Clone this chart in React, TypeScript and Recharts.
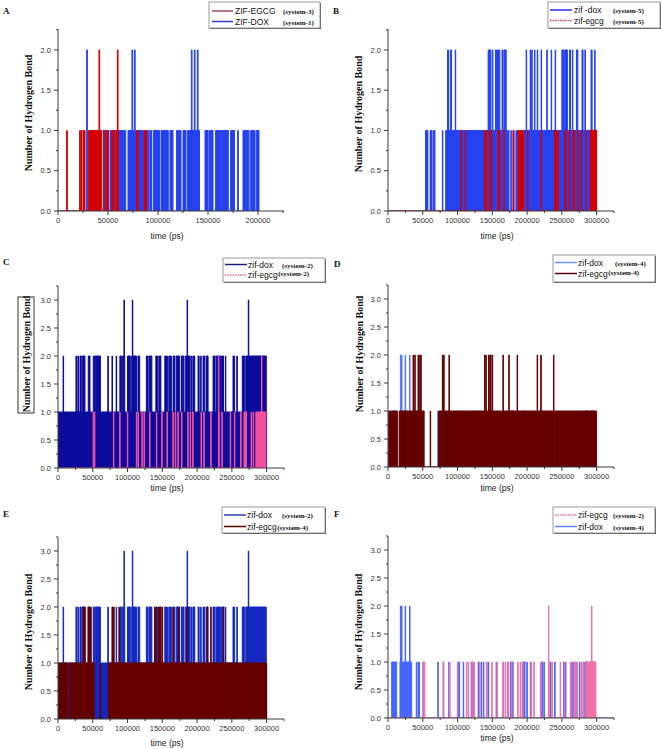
import React from "react";
import { ComposedChart, Area, XAxis, YAxis } from "recharts";

type Span = number | [number, number];

// ---- panel A : ZIF-DOX (system-1) and ZIF-EGCG (system-3)
const sys1DoxOne: Span[] = [
  26500, 29000, 31500, 36000, [45300, 50300], [52000, 57000], [60300, 67700],
  [70000, 78600], [80300, 85500], [86500, 88500], [89600, 91000], [92000, 93600],
  [95300, 101500], [103000, 110300], [112000, 115000], [118600, 123000],
  [125000, 128000], [129600, 133600], [134000, 141500], [147000, 150000],
  [151000, 155000], [157600, 162600], [163600, 170300], [172600, 176500], 180000,
  [185000, 191000], [192600, 197000], [198300, 201000],
];
const sys1DoxTwo: Span[] = [29000, 74300, 76800, 133700, 136700, 139700];
const sys3EgcgOne: Span[] = [
  9000, 22000, 23500, 25500, 26500, [30300, 43600], 46000, [48600, 50300],
  [54000, 56000], [57700, 60300], [78700, 80300], [86300, 88700],
];
const sys3EgcgTwo: Span[] = [41300, 59700];

// ---- panel B : system-5
const sys5DoxOne: Span[] = [
  [54000, 55500], 57000, 61000, 63000, [65500, 67500], 78500, [83000, 174000],
  177000, 181000, [184000, 186500], [195500, 300000],
];
const sys5DoxTwo: Span[] = [
  [85600, 87000], [89500, 91400], 97000, [144000, 148000], 150500, [154500, 156000],
  [157500, 160800], [164000, 165500], [167000, 170000], 199000, 204800, 207000,
  211000, 215000, 220500, 228700, 235000, 240700, [250000, 252500], [254000, 258000],
  [261000, 262500], 265500, [271000, 273000], [279000, 280500], 283500,
  [292000, 293500], 297500,
];
const sys5EgcgOne: Span[] = [
  104800, 111500, [139000, 142000], 146000, 148800, [158000, 160800], 167000, 180000,
  [187000, 194700], 201000, 220500, [239700, 242000], 244500, [254000, 256000],
  261000, [266000, 268000], 273000, 278000, 285000, [291000, 300000],
];

// ---- system-2 (panels C, E, F)
const sys2DoxOne: Span[] = [[0, 300000]];
const sys2DoxTwo: Span[] = [
  7700, [25800, 27000], 29000, [31600, 33500], [35000, 38800], [43500, 46000],
  [50700, 52500], [53500, 61000], 72000, 78000, 84000, [89000, 91500], [93000, 96000],
  [100000, 104000], [106000, 113000], [115000, 117500], [127000, 129500],
  [131000, 135000], [140700, 143000], [145000, 148000], [153600, 156000], 158000,
  [160000, 163000], [165500, 168000], [170000, 175000], [177500, 181000],
  [183000, 186000], [187000, 190000], 192000, [194000, 196700], [201400, 203000],
  205500, [208600, 211000], [213000, 215800], [223000, 226000], [228000, 233500],
  [235000, 238000], 241000, [251700, 254000], 257500, [265000, 268000],
  [270000, 299500],
];
const sys2DoxThree: Span[] = [95200, 107200, 186000, 274000];
const sys2EgcgOne: Span[] = [
  [50500, 53000], 80000, 89000, 100000, 113000, 115500, 121000, 124000, 132000,
  141800, 149500, 157000, 165500, 169000, 172700, 178000, 187000, 190500, 194000,
  206000, 210000, 220000, 231600, 236000, 248000, 254000, 263000, [267500, 271000],
  278000, 281000, [284500, 299000],
];
const sys2EgcgTwo: Span[] = [231000, 293000];

// ---- system-4 (panels D, E, F)
const sys4DoxOne: Span[] = [
  [5300, 12400], [17200, 34000], 41000, 43500, 45000, 50600, 72000, 79600, 87800,
  [101000, 103000], 108500, [119600, 122500], 130000, 134400, 137500, 142000, 144500,
  155800, 166000, 172700, [176000, 180000], [193000, 197000], 200000, 205000,
  [219500, 222000], 224500, 233700, 240000, 253000, 255500, 263000, 266000, 271600,
  275600, 280800, [283000, 287500], [290000, 296700],
];
const sys4DoxTwo: Span[] = [[17800, 18700], 19800, 25000, 31300];
const sys4EgcgOne: Span[] = [
  [1000, 5000], [6500, 13500], [16000, 28500], [29600, 52000], 61000,
  [72500, 239600], [240600, 300000],
];
const sys4EgcgTwo: Span[] = [
  36400, 38800, 43500, 46000, 47400, 78500, 80400, 88000, 139200, 141000, 145000,
  [146500, 148200], 150200, 165600, 174000, 186000, 214800, 220000, 238300,
];

const xTicks200 = [0, 50000, 100000, 150000, 200000];
const xTicks300 = [0, 50000, 100000, 150000, 200000, 250000, 300000];
const yTicks2 = [0, 0.5, 1, 1.5, 2];
const yTicks3 = [0, 0.5, 1, 1.5, 2, 2.5, 3];

const SPIKE = 700;
const AXIS = "#3a3a3a";
const SANS = "'Liberation Sans', Arial, sans-serif";
const SERIF = "'Liberation Serif', 'Times New Roman', serif";

function toSteps(levels: Span[][], end: number) {
  const spans = levels.map((lv) =>
    lv.map((s) => (typeof s === "number" ? [s - SPIKE / 2, s + SPIKE / 2] : s))
  );
  const edges = new Set<number>([0, end]);
  spans.forEach((lv) => lv.forEach(([a, b]) => { edges.add(a); edges.add(b); }));
  const ts = [...edges].filter((t) => t >= 0 && t <= end).sort((p, q) => p - q);
  return ts.map((t, i) => {
    if (i === ts.length - 1) return { t, v: 0 };
    const mid = (t + ts[i + 1]) / 2;
    let v = 0;
    spans.forEach((lv, k) => {
      if (lv.some(([a, b]) => mid >= a && mid < b)) v = k + 1;
    });
    return { t, v };
  });
}

function withMinor(majors: number[], max: number) {
  const step = majors[1] - majors[0];
  const out: number[] = [];
  for (let v = 0; v <= max + 1e-9; v += step / 2) out.push(Math.round(v * 1000) / 1000);
  return out;
}

const YW = 40, MT = 4, MR = 4, XH = 24;

interface Series { data: { t: number; v: number }[]; color: string }
interface PanelCfg {
  x0: number; x1: number; yTop: number; y0: number;
  xMax: number; yMax: number; xTicks: number[]; yTicks: number[];
  series: Series[];
}

function Panel({ cfg }: { cfg: PanelCfg }) {
  const { x0, x1, yTop, y0, xMax, yMax, xTicks, yTicks, series } = cfg;
  const xAll = withMinor(xTicks, xMax);
  const yAll = withMinor(yTicks, yMax);
  return (
    <div style={{ position: "absolute", left: x0 - YW, top: yTop - MT }}>
      <ComposedChart
        width={YW + x1 - x0 + MR}
        height={MT + y0 - yTop + XH}
        margin={{ top: MT, right: MR, bottom: 0, left: 0 }}
      >
        <XAxis
          type="number"
          dataKey="t"
          domain={[0, xMax]}
          ticks={xAll}
          interval={0}
          tickSize={0}
          tickMargin={0}
          tickLine={false}
          height={XH}
          allowDataOverflow
          axisLine={{ stroke: AXIS, strokeWidth: 1 }}
          tick={(p: any) => {
            const v = p.payload.value;
            const major = xTicks.includes(v);
            return (
              <g key={`x${v}`}>
                <line x1={p.x} x2={p.x} y1={p.y} y2={p.y + (major ? 4 : 2)} stroke={AXIS} />
                {major && (
                  <text x={p.x} y={p.y + 12} textAnchor="middle" fontSize={7.5} fill="#333" fontFamily={SANS}>
                    {v}
                  </text>
                )}
              </g>
            );
          }}
        />
        <YAxis
          type="number"
          domain={[0, yMax]}
          ticks={yAll}
          interval={0}
          tickSize={0}
          tickMargin={0}
          tickLine={false}
          width={YW}
          allowDataOverflow
          axisLine={{ stroke: AXIS, strokeWidth: 1 }}
          tick={(p: any) => {
            const v = p.payload.value;
            const major = yTicks.includes(v);
            return (
              <g key={`y${v}`}>
                <line x1={p.x - (major ? 4 : 2)} x2={p.x} y1={p.y} y2={p.y} stroke={AXIS} />
                {major && (
                  <text x={p.x - 7} y={p.y + 2.7} textAnchor="end" fontSize={7.5} fill="#333" fontFamily={SANS}>
                    {v.toFixed(1)}
                  </text>
                )}
              </g>
            );
          }}
        />
        {series.map((s, i) => (
          <Area
            key={i}
            data={s.data}
            dataKey="v"
            type="stepAfter"
            stroke={s.color}
            strokeWidth={1}
            fill={s.color}
            fillOpacity={1}
            dot={false}
            activeDot={false}
            isAnimationActive={false}
          />
        ))}
      </ComposedChart>
    </div>
  );
}

const panels: PanelCfg[] = [
  {
    x0: 58, x1: 284, yTop: 29, y0: 211, xMax: 226000, yMax: 2.26,
    xTicks: xTicks200, yTicks: yTicks2,
    series: [
      { data: toSteps([sys1DoxOne, sys1DoxTwo], 201000), color: "#2441f2" },
      { data: toSteps([sys3EgcgOne, sys3EgcgTwo], 90000), color: "#d40000" },
    ],
  },
  {
    x0: 388, x1: 614, yTop: 29, y0: 211, xMax: 325000, yMax: 2.26,
    xTicks: xTicks300, yTicks: yTicks2,
    series: [
      { data: toSteps([sys5DoxOne, sys5DoxTwo], 300000), color: "#2441f2" },
      { data: toSteps([sys5EgcgOne], 300000), color: "#d40000" },
    ],
  },
  {
    x0: 58, x1: 284, yTop: 286, y0: 468, xMax: 325000, yMax: 3.25,
    xTicks: xTicks300, yTicks: yTicks3,
    series: [
      { data: toSteps([sys2DoxOne, sys2DoxTwo, sys2DoxThree], 300000), color: "#0c0c9c" },
      { data: toSteps([sys2EgcgOne, sys2EgcgTwo], 300000), color: "#f4509e" },
    ],
  },
  {
    x0: 388, x1: 614, yTop: 285, y0: 467, xMax: 325000, yMax: 3.25,
    xTicks: xTicks300, yTicks: yTicks3,
    series: [
      { data: toSteps([sys4DoxOne, sys4DoxTwo], 300000), color: "#5577ff" },
      { data: toSteps([sys4EgcgOne, sys4EgcgTwo], 300000), color: "#640000" },
    ],
  },
  {
    x0: 58, x1: 284, yTop: 537, y0: 719, xMax: 325000, yMax: 3.25,
    xTicks: xTicks300, yTicks: yTicks3,
    series: [
      { data: toSteps([sys2DoxOne, sys2DoxTwo, sys2DoxThree], 300000), color: "#1428c0" },
      { data: toSteps([sys4EgcgOne, sys4EgcgTwo], 300000), color: "#640000" },
    ],
  },
  {
    x0: 388, x1: 614, yTop: 536, y0: 718, xMax: 325000, yMax: 3.25,
    xTicks: xTicks300, yTicks: yTicks3,
    series: [
      { data: toSteps([sys4DoxOne, sys4DoxTwo], 325000), color: "#4466ff" },
      { data: toSteps([sys2EgcgOne, sys2EgcgTwo], 300000), color: "#f070a8" },
    ],
  },
];

interface LegendRow { y: number; color: string; dash?: boolean; name: string; tag: string; tagX?: number; tagDy?: number }
interface LegendCfg { box: [number, number, number, number]; line: [number, number]; nameX: number; rows: LegendRow[] }

const legends: LegendCfg[] = [
  {
    box: [209, 2, 111, 26], line: [212, 233], nameX: 235,
    rows: [
      { y: 11, color: "#a04870", name: "ZIF-EGCG", tag: "(system-3)", tagX: 283 },
      { y: 21.5, color: "#2f3fe8", name: "ZIF-DOX", tag: "(system-1)", tagX: 283 },
    ],
  },
  {
    box: [548, 2, 112, 26], line: [550, 572], nameX: 574,
    rows: [
      { y: 10, color: "#2233ee", name: "zif -dox", tag: "(system-5)", tagX: 613 },
      { y: 20.5, color: "#d04070", dash: true, name: "zif-egcg", tag: "(system-5)", tagX: 613 },
    ],
  },
  {
    box: [223, 258, 102, 24], line: [225, 247], nameX: 248,
    rows: [
      { y: 264.5, color: "#1c1c80", name: "zif-dox", tag: "(system-2)", tagX: 282 },
      { y: 275, color: "#f070a8", dash: true, name: "zif-egcg", tag: "(system-2)", tagDy: -2 },
    ],
  },
  {
    box: [553, 255, 102, 27], line: [555, 577], nameX: 578,
    rows: [
      { y: 262.5, color: "#6f8cff", name: "zif-dox", tag: "(system-4)", tagX: 615 },
      { y: 273.5, color: "#5a0010", name: "zif-egcg", tag: "(system-4)", tagDy: -2 },
    ],
  },
  {
    box: [222, 507, 103, 26], line: [224, 246], nameX: 247,
    rows: [
      { y: 515, color: "#3040b8", name: "zif-dox", tag: "(system-2)", tagX: 282 },
      { y: 526.5, color: "#5a0000", name: "zif-egcg", tag: "(system-4)" },
    ],
  },
  {
    box: [553, 507, 102, 26], line: [555, 577], nameX: 578,
    rows: [
      { y: 515, color: "#f070a0", dash: true, name: "zif-egcg", tag: "(system-2)", tagX: 613 },
      { y: 526.5, color: "#6080ff", name: "zif-dox", tag: "(system-4)", tagX: 613 },
    ],
  },
];

const letters = [
  { t: "A", x: 3, y: 14 }, { t: "B", x: 333, y: 14 },
  { t: "C", x: 3, y: 265 }, { t: "D", x: 334, y: 267 },
  { t: "E", x: 3, y: 517 }, { t: "F", x: 334, y: 517 },
];
const yLabels = [
  { x: 28, y: 113 }, { x: 358, y: 114 }, { x: 26, y: 354 },
  { x: 359, y: 354 }, { x: 28, y: 632 }, { x: 358, y: 632 },
];
const xLabels = [
  { x: 167, y: 236 }, { x: 497, y: 236 }, { x: 167, y: 488 },
  { x: 497, y: 488 }, { x: 167, y: 743 }, { x: 497, y: 738 },
];

export default function App() {
  return (
    <div style={{ position: "absolute", left: 0, top: 0, width: 661, height: 749, background: "#fff", overflow: "hidden" }}>
      {panels.map((p, i) => (
        <Panel key={i} cfg={p} />
      ))}
      <svg width={661} height={749} style={{ position: "absolute", left: 0, top: 0, pointerEvents: "none" }}>
        {letters.map((l) => (
          <text key={l.t} x={l.x} y={l.y} fontFamily={SERIF} fontWeight="bold" fontSize={9} fill="#111">
            {l.t}
          </text>
        ))}
        {yLabels.map((l, i) => (
          <text
            key={i}
            transform={`translate(${l.x},${l.y}) rotate(-90)`}
            textAnchor="middle"
            dominantBaseline="central"
            fontFamily={SERIF}
            fontWeight="bold"
            fontSize={10}
            fill="#111"
          >
            Number of Hydrogen Bond
          </text>
        ))}
        <rect x={18} y={297} width={16} height={116} fill="none" stroke="#333" strokeWidth={1} />
        {xLabels.map((l, i) => (
          <text key={i} x={l.x} y={l.y} textAnchor="middle" dominantBaseline="central" fontFamily={SANS} fontSize={8.5} fill="#222">
            time (ps)
          </text>
        ))}
        {legends.map((lg, i) => {
          const [bx, by, bw, bh] = lg.box;
          return (
            <g key={i}>
              <rect x={bx + 1} y={by + 1} width={bw} height={bh} fill="#444" />
              <rect x={bx} y={by} width={bw} height={bh} fill="#fff" stroke="#999" strokeWidth={1} />
              {lg.rows.map((r, j) => (
                <g key={j}>
                  <line
                    x1={lg.line[0]}
                    x2={lg.line[1]}
                    y1={r.y}
                    y2={r.y}
                    stroke={r.color}
                    strokeWidth={1.5}
                    strokeDasharray={r.dash ? "1.5 1" : undefined}
                  />
                  <text x={lg.nameX} y={r.y + 3} fontFamily={SANS} fontSize={8.5} fill="#111">
                    {r.name}
                    <tspan
                      x={r.tagX}
                      dx={r.tagX ? 0 : 0.5}
                      dy={r.tagDy ?? 0}
                      fontFamily={SERIF}
                      fontWeight="bold"
                      fontSize={7}
                    >
                      {r.tag}
                    </tspan>
                  </text>
                </g>
              ))}
            </g>
          );
        })}
      </svg>
    </div>
  );
}
